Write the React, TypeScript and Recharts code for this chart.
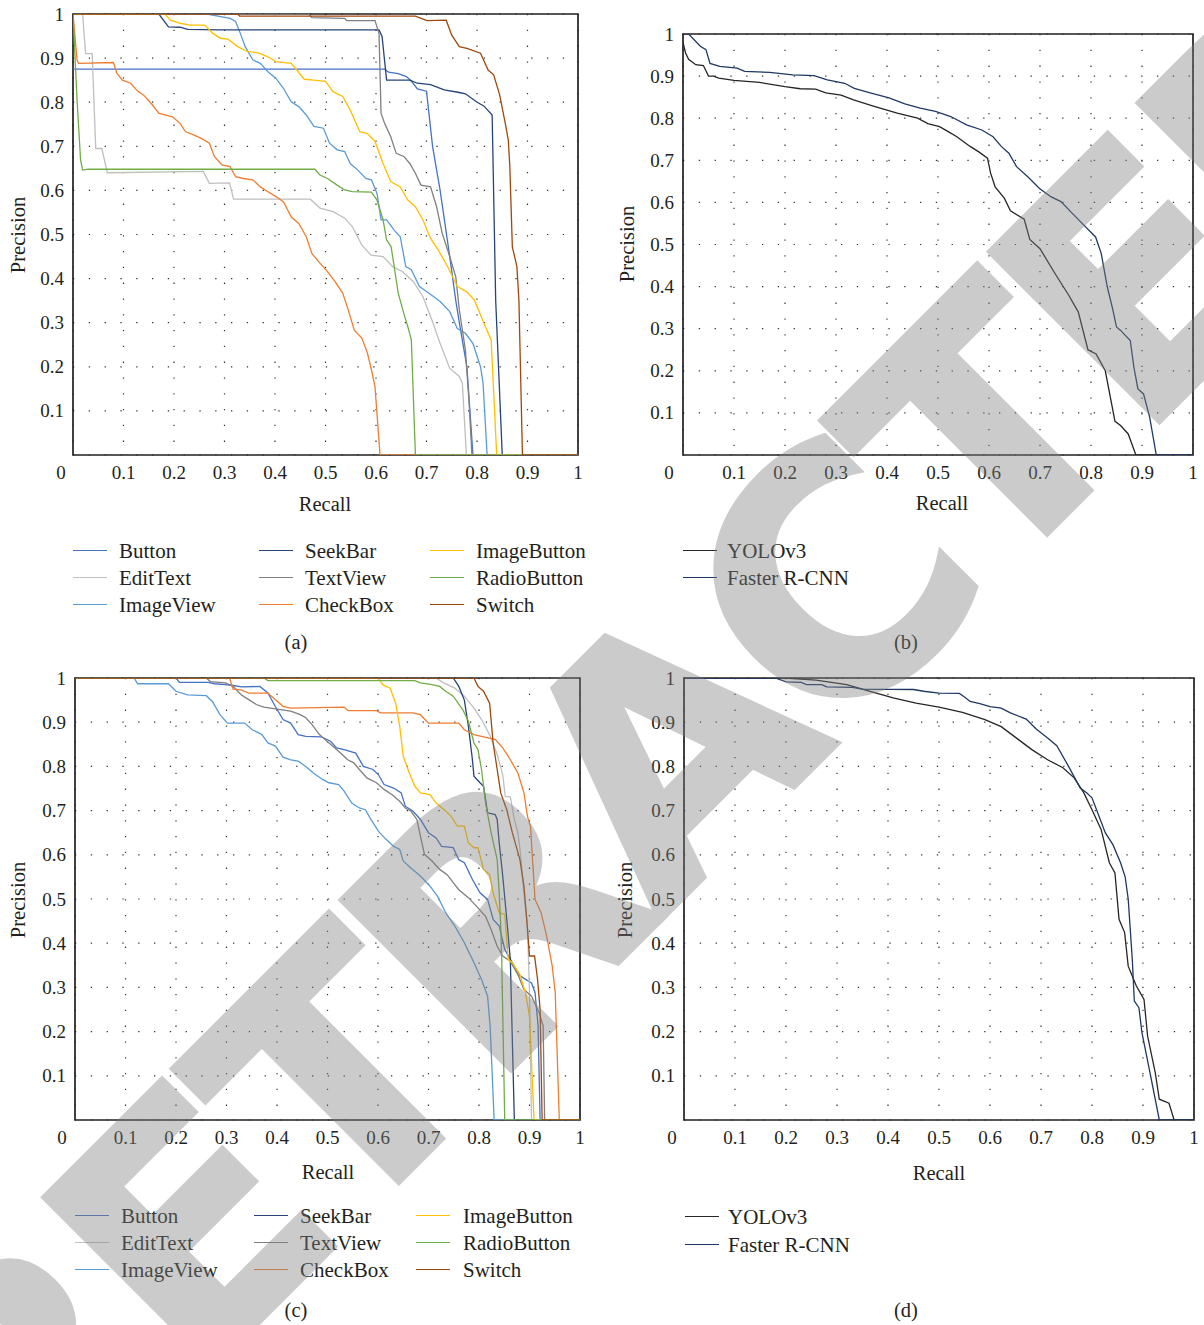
import React from "react";
import { CartesianGrid, Line, LineChart, ReferenceArea, XAxis, YAxis } from "recharts";

// PR curves of the GUI-component detector: [recall, precision]
type Pt = [number, number];

const X_TICKS = [0, 0.1, 0.2, 0.3, 0.4, 0.5, 0.6, 0.7, 0.8, 0.9, 1];
const Y_TICKS = [0.1, 0.2, 0.3, 0.4, 0.5, 0.6, 0.7, 0.8, 0.9, 1];

const COMPONENT_NAMES = ["Button", "EditText", "ImageView", "SeekBar", "TextView", "CheckBox", "ImageButton", "RadioButton", "Switch"];
const COMPONENT_COLORS = ["#4472C4", "#BFBFBF", "#5B9BD5", "#264478", "#7F7F7F", "#ED7D31", "#FFC000", "#70AD47", "#9E480E"];
const DETECTOR_NAMES = ["YOLOv3", "Faster R-CNN"];
const DETECTOR_COLORS = ["#262626", "#1F3864"];

// (a)
const aButton: Pt[] = [[0, 0.875], [0.617, 0.875], [0.625, 0.868], [0.644, 0.865], [0.66, 0.858], [0.67, 0.848], [0.682, 0.83], [0.7, 0.825], [0.712, 0.7], [0.727, 0.6], [0.746, 0.45], [0.758, 0.35], [0.765, 0.3], [0.78, 0.2], [0.792, 0], [1, 0]];
const aEditText: Pt[] = [[0, 1], [0.019, 1], [0.025, 0.91], [0.038, 0.91], [0.045, 0.695], [0.057, 0.695], [0.068, 0.64], [0.258, 0.643], [0.27, 0.616], [0.31, 0.617], [0.318, 0.58], [0.47, 0.58], [0.489, 0.56], [0.515, 0.552], [0.538, 0.537], [0.553, 0.518], [0.572, 0.476], [0.59, 0.453], [0.614, 0.45], [0.633, 0.427], [0.652, 0.416], [0.674, 0.393], [0.693, 0.359], [0.712, 0.302], [0.727, 0.253], [0.746, 0.197], [0.765, 0.178], [0.771, 0.163], [0.779, 0], [1, 0]];
const aImageView: Pt[] = [[0, 1], [0.265, 1], [0.311, 0.99], [0.322, 0.983], [0.33, 0.96], [0.341, 0.926], [0.356, 0.896], [0.371, 0.888], [0.386, 0.869], [0.402, 0.854], [0.417, 0.831], [0.432, 0.801], [0.447, 0.79], [0.462, 0.771], [0.477, 0.745], [0.496, 0.741], [0.508, 0.707], [0.523, 0.692], [0.538, 0.688], [0.549, 0.661], [0.564, 0.646], [0.58, 0.627], [0.591, 0.624], [0.602, 0.593], [0.61, 0.533], [0.621, 0.533], [0.636, 0.51], [0.648, 0.495], [0.659, 0.427], [0.67, 0.42], [0.686, 0.382], [0.705, 0.367], [0.727, 0.348], [0.746, 0.325], [0.761, 0.287], [0.777, 0.276], [0.792, 0.253], [0.807, 0.2], [0.812, 0.163], [0.82, 0], [1, 0]];
const aSeekBar: Pt[] = [[0, 1], [0.17, 1], [0.189, 0.971], [0.212, 0.97], [0.227, 0.965], [0.288, 0.964], [0.606, 0.964], [0.612, 0.949], [0.621, 0.85], [0.667, 0.85], [0.682, 0.843], [0.708, 0.84], [0.735, 0.828], [0.765, 0.822], [0.777, 0.819], [0.799, 0.801], [0.814, 0.791], [0.83, 0.771], [0.837, 0.351], [0.85, 0], [1, 0]];
const aTextView: Pt[] = [[0, 1], [0.466, 1], [0.473, 0.992], [0.538, 0.99], [0.542, 0.985], [0.598, 0.985], [0.606, 0.956], [0.61, 0.775], [0.617, 0.752], [0.629, 0.722], [0.64, 0.684], [0.655, 0.677], [0.667, 0.661], [0.678, 0.639], [0.689, 0.612], [0.708, 0.608], [0.72, 0.563], [0.731, 0.503], [0.746, 0.45], [0.758, 0.404], [0.765, 0.329], [0.777, 0.238], [0.784, 0.125], [0.79, 0], [1, 0]];
const aCheckBox: Pt[] = [[0, 1], [0.008, 0.896], [0.011, 0.888], [0.08, 0.89], [0.087, 0.865], [0.098, 0.85], [0.114, 0.843], [0.129, 0.824], [0.14, 0.816], [0.155, 0.797], [0.17, 0.775], [0.182, 0.771], [0.197, 0.767], [0.212, 0.752], [0.223, 0.733], [0.239, 0.726], [0.254, 0.718], [0.27, 0.707], [0.28, 0.677], [0.295, 0.658], [0.311, 0.654], [0.322, 0.631], [0.337, 0.627], [0.356, 0.624], [0.371, 0.608], [0.386, 0.597], [0.402, 0.586], [0.417, 0.574], [0.432, 0.54], [0.447, 0.525], [0.462, 0.495], [0.473, 0.457], [0.489, 0.435], [0.504, 0.416], [0.519, 0.393], [0.534, 0.367], [0.545, 0.329], [0.557, 0.283], [0.572, 0.265], [0.583, 0.231], [0.591, 0.193], [0.598, 0.155], [0.608, 0], [1, 0]];
const aImageButton: Pt[] = [[0, 1], [0.182, 1], [0.193, 0.986], [0.212, 0.979], [0.231, 0.975], [0.261, 0.975], [0.277, 0.956], [0.292, 0.945], [0.307, 0.943], [0.326, 0.926], [0.345, 0.915], [0.367, 0.912], [0.386, 0.903], [0.402, 0.892], [0.432, 0.888], [0.443, 0.873], [0.458, 0.852], [0.477, 0.85], [0.5, 0.847], [0.515, 0.824], [0.534, 0.813], [0.549, 0.782], [0.568, 0.733], [0.583, 0.729], [0.598, 0.711], [0.614, 0.661], [0.629, 0.62], [0.648, 0.608], [0.663, 0.578], [0.678, 0.563], [0.693, 0.533], [0.708, 0.491], [0.723, 0.465], [0.742, 0.427], [0.761, 0.382], [0.78, 0.37], [0.795, 0.351], [0.811, 0.306], [0.828, 0.261], [0.839, 0], [1, 0]];
const aRadioButton: Pt[] = [[0, 1], [0.008, 0.805], [0.015, 0.669], [0.019, 0.646], [0.03, 0.648], [0.479, 0.648], [0.489, 0.635], [0.504, 0.627], [0.523, 0.612], [0.538, 0.601], [0.553, 0.597], [0.591, 0.596], [0.602, 0.578], [0.614, 0.533], [0.621, 0.488], [0.63, 0.472], [0.636, 0.427], [0.644, 0.367], [0.655, 0.321], [0.663, 0.291], [0.67, 0.261], [0.678, 0], [1, 0]];
const aSwitch: Pt[] = [[0, 1], [0.326, 1], [0.33, 0.995], [0.678, 0.995], [0.701, 0.985], [0.739, 0.986], [0.75, 0.952], [0.765, 0.926], [0.78, 0.922], [0.807, 0.911], [0.822, 0.873], [0.833, 0.862], [0.845, 0.816], [0.856, 0.752], [0.862, 0.714], [0.865, 0.654], [0.87, 0.472], [0.879, 0.427], [0.883, 0.351], [0.89, 0], [1, 0]];

// (b)
const bYolo: Pt[] = [[0, 0.98], [0.005, 0.955], [0.011, 0.94], [0.025, 0.927], [0.04, 0.925], [0.05, 0.9], [0.06, 0.9], [0.07, 0.895], [0.1, 0.89], [0.15, 0.885], [0.2, 0.875], [0.23, 0.87], [0.26, 0.869], [0.28, 0.86], [0.31, 0.855], [0.333, 0.844], [0.37, 0.83], [0.42, 0.812], [0.46, 0.8], [0.48, 0.787], [0.503, 0.78], [0.52, 0.768], [0.537, 0.756], [0.563, 0.733], [0.58, 0.72], [0.597, 0.705], [0.603, 0.67], [0.612, 0.637], [0.63, 0.61], [0.642, 0.58], [0.669, 0.56], [0.68, 0.512], [0.7, 0.49], [0.73, 0.43], [0.756, 0.38], [0.775, 0.34], [0.794, 0.25], [0.81, 0.24], [0.828, 0.2], [0.847, 0.08], [0.858, 0.07], [0.873, 0.05], [0.888, 0], [1, 0]];
const bFaster: Pt[] = [[0, 1], [0.011, 1], [0.034, 0.971], [0.045, 0.963], [0.053, 0.93], [0.072, 0.923], [0.106, 0.919], [0.121, 0.911], [0.17, 0.909], [0.215, 0.903], [0.257, 0.901], [0.283, 0.891], [0.317, 0.883], [0.336, 0.871], [0.367, 0.86], [0.404, 0.848], [0.435, 0.834], [0.465, 0.824], [0.495, 0.816], [0.525, 0.804], [0.556, 0.784], [0.586, 0.772], [0.608, 0.756], [0.624, 0.733], [0.639, 0.717], [0.654, 0.685], [0.676, 0.661], [0.699, 0.633], [0.722, 0.613], [0.741, 0.602], [0.76, 0.578], [0.786, 0.546], [0.809, 0.518], [0.82, 0.479], [0.832, 0.399], [0.843, 0.344], [0.85, 0.304], [0.858, 0.296], [0.877, 0.272], [0.884, 0.209], [0.892, 0.157], [0.903, 0.145], [0.915, 0.09], [0.928, 0], [1, 0]];

// (c)
const cButton: Pt[] = [[0, 1], [0.2, 1], [0.207, 0.99], [0.264, 0.99], [0.276, 0.987], [0.298, 0.985], [0.313, 0.983], [0.33, 0.98], [0.366, 0.981], [0.382, 0.966], [0.397, 0.935], [0.412, 0.906], [0.427, 0.898], [0.442, 0.872], [0.457, 0.868], [0.488, 0.867], [0.506, 0.857], [0.518, 0.842], [0.533, 0.838], [0.556, 0.83], [0.571, 0.8], [0.59, 0.793], [0.601, 0.781], [0.612, 0.759], [0.631, 0.751], [0.646, 0.74], [0.654, 0.71], [0.669, 0.699], [0.684, 0.68], [0.7, 0.65], [0.715, 0.638], [0.726, 0.619], [0.749, 0.616], [0.76, 0.589], [0.771, 0.582], [0.787, 0.544], [0.802, 0.514], [0.817, 0.499], [0.828, 0.454], [0.84, 0.439], [0.851, 0.386], [0.866, 0.356], [0.881, 0.326], [0.904, 0.31], [0.911, 0.288], [0.917, 0.213], [0.921, 0], [1, 0]];
const cEditText: Pt[] = [[0, 1], [0.715, 1], [0.73, 0.989], [0.752, 0.977], [0.771, 0.959], [0.79, 0.932], [0.805, 0.906], [0.821, 0.872], [0.836, 0.827], [0.847, 0.781], [0.852, 0.732], [0.862, 0.731], [0.87, 0.68], [0.877, 0.65], [0.882, 0.604], [0.889, 0.514], [0.896, 0.439], [0.9, 0.288], [0.904, 0], [1, 0]];
const cImageView: Pt[] = [[0, 1], [0.117, 1], [0.124, 0.987], [0.185, 0.987], [0.2, 0.97], [0.223, 0.962], [0.26, 0.96], [0.272, 0.947], [0.287, 0.917], [0.302, 0.898], [0.336, 0.898], [0.351, 0.883], [0.37, 0.872], [0.382, 0.853], [0.397, 0.846], [0.412, 0.821], [0.427, 0.815], [0.442, 0.812], [0.457, 0.8], [0.472, 0.785], [0.491, 0.77], [0.503, 0.763], [0.522, 0.759], [0.533, 0.744], [0.548, 0.717], [0.563, 0.706], [0.575, 0.702], [0.586, 0.68], [0.601, 0.653], [0.616, 0.635], [0.631, 0.619], [0.643, 0.612], [0.65, 0.586], [0.665, 0.57], [0.684, 0.552], [0.703, 0.529], [0.718, 0.506], [0.734, 0.469], [0.752, 0.439], [0.771, 0.401], [0.79, 0.356], [0.805, 0.318], [0.817, 0.28], [0.822, 0.213], [0.83, 0], [1, 0]];
const cSeekBar: Pt[] = [[0, 1], [0.749, 1], [0.76, 0.981], [0.771, 0.95], [0.779, 0.891], [0.787, 0.815], [0.79, 0.778], [0.802, 0.763], [0.809, 0.755], [0.817, 0.695], [0.832, 0.691], [0.836, 0.68], [0.84, 0.627], [0.847, 0.552], [0.855, 0.454], [0.862, 0.363], [0.87, 0], [1, 0]];
const cTextView: Pt[] = [[0, 1], [0.26, 1], [0.268, 0.992], [0.298, 0.989], [0.313, 0.981], [0.329, 0.962], [0.344, 0.951], [0.359, 0.94], [0.374, 0.934], [0.397, 0.93], [0.427, 0.925], [0.446, 0.917], [0.457, 0.91], [0.469, 0.895], [0.484, 0.872], [0.499, 0.857], [0.514, 0.842], [0.529, 0.827], [0.54, 0.815], [0.552, 0.808], [0.563, 0.793], [0.578, 0.774], [0.597, 0.763], [0.612, 0.748], [0.628, 0.736], [0.643, 0.721], [0.654, 0.706], [0.665, 0.699], [0.677, 0.68], [0.684, 0.642], [0.692, 0.601], [0.707, 0.586], [0.722, 0.567], [0.737, 0.555], [0.749, 0.537], [0.76, 0.521], [0.779, 0.503], [0.798, 0.48], [0.813, 0.461], [0.824, 0.431], [0.836, 0.393], [0.847, 0.371], [0.862, 0.359], [0.877, 0.329], [0.889, 0.295], [0.904, 0.28], [0.919, 0.243], [0.927, 0.213], [0.93, 0], [1, 0]];
const cCheckBox: Pt[] = [[0, 1], [0.306, 1], [0.313, 0.975], [0.329, 0.973], [0.344, 0.966], [0.382, 0.966], [0.397, 0.951], [0.412, 0.936], [0.427, 0.932], [0.533, 0.934], [0.541, 0.926], [0.597, 0.926], [0.605, 0.921], [0.669, 0.921], [0.684, 0.917], [0.7, 0.898], [0.76, 0.898], [0.771, 0.883], [0.79, 0.872], [0.809, 0.867], [0.832, 0.861], [0.847, 0.842], [0.862, 0.815], [0.877, 0.785], [0.889, 0.74], [0.896, 0.687], [0.902, 0.665], [0.906, 0.589], [0.911, 0.499], [0.923, 0.469], [0.934, 0.416], [0.945, 0.348], [0.951, 0.288], [0.953, 0.213], [0.959, 0], [1, 0]];
const cImageButton: Pt[] = [[0, 1], [0.601, 1], [0.609, 0.985], [0.624, 0.977], [0.635, 0.943], [0.643, 0.891], [0.65, 0.823], [0.662, 0.785], [0.673, 0.755], [0.684, 0.74], [0.703, 0.736], [0.715, 0.717], [0.734, 0.699], [0.745, 0.687], [0.757, 0.665], [0.771, 0.665], [0.779, 0.627], [0.79, 0.616], [0.798, 0.616], [0.809, 0.567], [0.821, 0.555], [0.828, 0.514], [0.84, 0.469], [0.851, 0.465], [0.858, 0.363], [0.866, 0.356], [0.881, 0.329], [0.892, 0.288], [0.9, 0.235], [0.909, 0], [1, 0]];
const cRadioButton: Pt[] = [[0, 1], [0.374, 1], [0.382, 0.994], [0.673, 0.994], [0.684, 0.989], [0.707, 0.985], [0.722, 0.981], [0.734, 0.97], [0.749, 0.959], [0.768, 0.928], [0.779, 0.902], [0.79, 0.853], [0.798, 0.838], [0.805, 0.793], [0.813, 0.717], [0.824, 0.65], [0.836, 0.589], [0.84, 0.514], [0.843, 0.439], [0.845, 0.363], [0.851, 0], [1, 0]];
const cSwitch: Pt[] = [[0, 1], [0.79, 1], [0.798, 0.981], [0.809, 0.97], [0.821, 0.943], [0.828, 0.853], [0.836, 0.793], [0.843, 0.74], [0.855, 0.702], [0.866, 0.65], [0.881, 0.589], [0.889, 0.529], [0.895, 0.446], [0.9, 0.371], [0.91, 0.371], [0.916, 0.318], [0.921, 0.25], [0.925, 0], [1, 0]];

// (d)
const dYolo: Pt[] = [[0, 1], [0.198, 1], [0.259, 0.995], [0.319, 0.985], [0.365, 0.97], [0.41, 0.955], [0.455, 0.943], [0.5, 0.934], [0.546, 0.922], [0.59, 0.906], [0.622, 0.89], [0.652, 0.864], [0.682, 0.838], [0.713, 0.815], [0.743, 0.797], [0.765, 0.774], [0.784, 0.74], [0.8, 0.702], [0.818, 0.657], [0.834, 0.582], [0.845, 0.559], [0.853, 0.454], [0.864, 0.424], [0.871, 0.348], [0.887, 0.303], [0.902, 0.273], [0.909, 0.19], [0.924, 0.107], [0.932, 0.047], [0.951, 0.038], [0.961, 0], [1, 0]];
const dFaster: Pt[] = [[0, 1], [0.179, 1], [0.2, 0.991], [0.23, 0.99], [0.24, 0.985], [0.27, 0.985], [0.28, 0.98], [0.33, 0.979], [0.35, 0.975], [0.45, 0.974], [0.47, 0.97], [0.5, 0.966], [0.54, 0.965], [0.55, 0.957], [0.561, 0.947], [0.58, 0.942], [0.6, 0.935], [0.622, 0.932], [0.64, 0.921], [0.671, 0.907], [0.69, 0.885], [0.713, 0.864], [0.731, 0.847], [0.754, 0.8], [0.777, 0.751], [0.79, 0.74], [0.8, 0.729], [0.826, 0.65], [0.841, 0.623], [0.856, 0.582], [0.865, 0.55], [0.871, 0.5], [0.879, 0.363], [0.883, 0.269], [0.892, 0.254], [0.898, 0.197], [0.913, 0.111], [0.932, 0], [1, 0]];

const A_SERIES = [aButton, aEditText, aImageView, aSeekBar, aTextView, aCheckBox, aImageButton, aRadioButton, aSwitch];
const C_SERIES = [cButton, cEditText, cImageView, cSeekBar, cTextView, cCheckBox, cImageButton, cRadioButton, cSwitch];
const B_SERIES = [bYolo, bFaster];
const D_SERIES = [dYolo, dFaster];

const SERIF = "'Liberation Serif', 'DejaVu Serif', serif";
const INK = "#231f20";
const Y_AXIS_W = 80;
const M_TOP = 15;
const M_RIGHT = 15;
const X_AXIS_H = 40;

const fmt = (v: number) => (v === 0 ? "0" : v === 1 ? "1" : v.toFixed(1));

type PanelProps = {
  left: number; // plot area box in page px
  top: number;
  w: number;
  h: number;
  zeroShift: number;
  series: Pt[][];
  names: string[];
  colors: string[];
};

function Panel({ left, top, w, h, zeroShift, series, names, colors }: PanelProps) {
  const XTick = (p: any) => {
    const v = p.payload.value;
    return (
      <text x={v === 0 ? p.x - zeroShift : p.x} y={p.y + 24} textAnchor="middle" fontSize={19} fontFamily={SERIF} fill={INK}>
        {fmt(v)}
      </text>
    );
  };
  const YTick = (p: any) => (
    <text x={p.x - 9} y={p.y + 6.5} textAnchor="end" fontSize={19} fontFamily={SERIF} fill={INK}>
      {fmt(p.payload.value)}
    </text>
  );
  return (
    <div style={{ position: "absolute", left: left - Y_AXIS_W, top: top - M_TOP }}>
      <LineChart
        width={Y_AXIS_W + w + M_RIGHT}
        height={M_TOP + h + X_AXIS_H}
        margin={{ top: M_TOP, right: M_RIGHT, bottom: 0, left: 0 }}
      >
        <CartesianGrid stroke="#333" strokeWidth={1.2} strokeDasharray="1.3 14.5" />
        <XAxis
          type="number"
          dataKey="r"
          domain={[0, 1]}
          ticks={X_TICKS}
          interval={0}
          height={X_AXIS_H}
          axisLine={false}
          tickLine={false}
          tickSize={0}
          tickMargin={0}
          tick={XTick}
          allowDataOverflow
        />
        <YAxis
          type="number"
          domain={[0, 1]}
          ticks={Y_TICKS}
          interval={0}
          width={Y_AXIS_W}
          axisLine={false}
          tickLine={false}
          tickSize={0}
          tickMargin={0}
          tick={YTick}
          allowDataOverflow
        />
        {series.map((pts, i) => (
          <Line
            key={names[i]}
            name={names[i]}
            data={pts.map(([r, p]) => ({ r, p }))}
            dataKey="p"
            type="linear"
            stroke={colors[i]}
            strokeWidth={1.3}
            dot={false}
            activeDot={false}
            isAnimationActive={false}
          />
        ))}
        <ReferenceArea x1={0} x2={1} y1={0} y2={1} fill="none" stroke={INK} strokeWidth={1.7} ifOverflow="visible" />
      </LineChart>
    </div>
  );
}

function CenterText({ x, y, size = 20.5, rotate = 0, children }: { x: number; y: number; size?: number; rotate?: number; children: React.ReactNode }) {
  return (
    <div
      style={{
        position: "absolute",
        left: x,
        top: y,
        transform: `translate(-50%, -50%) rotate(${rotate}deg)`,
        fontFamily: SERIF,
        fontSize: size,
        lineHeight: 1,
        color: INK,
        whiteSpace: "nowrap",
      }}
    >
      {children}
    </div>
  );
}

type LegendProps = { lineX: number[]; textX: number[]; rows: number[]; names: string[]; colors: string[] };

function LegendBlock({ lineX, textX, rows, names, colors }: LegendProps) {
  return (
    <>
      {names.map((n, i) => {
        const col = Math.floor(i / rows.length);
        const y = rows[i % rows.length];
        return (
          <React.Fragment key={n}>
            <div style={{ position: "absolute", left: lineX[col], top: y - 0.75, width: 34, borderTop: `1.5px solid ${colors[i]}` }} />
            <div
              style={{
                position: "absolute",
                left: textX[col],
                top: y,
                transform: "translateY(-50%)",
                fontFamily: SERIF,
                fontSize: 21,
                lineHeight: 1,
                color: INK,
                whiteSpace: "nowrap",
              }}
            >
              {n}
            </div>
          </React.Fragment>
        );
      })}
    </>
  );
}

export default function App() {
  return (
    <div style={{ position: "absolute", left: 0, top: 0, width: 1204, height: 1325, background: "#fff", overflow: "hidden" }}>
      <Panel left={73} top={14} w={505} h={441} zeroShift={12} series={A_SERIES} names={COMPONENT_NAMES} colors={COMPONENT_COLORS} />
      <Panel left={683} top={34} w={510} h={421} zeroShift={14} series={B_SERIES} names={DETECTOR_NAMES} colors={DETECTOR_COLORS} />
      <Panel left={75} top={678} w={505} h={442} zeroShift={13} series={C_SERIES} names={COMPONENT_NAMES} colors={COMPONENT_COLORS} />
      <Panel left={684} top={678} w={510} h={442} zeroShift={12} series={D_SERIES} names={DETECTOR_NAMES} colors={DETECTOR_COLORS} />

      <CenterText x={325} y={504}>Recall</CenterText>
      <CenterText x={942} y={503}>Recall</CenterText>
      <CenterText x={328} y={1172}>Recall</CenterText>
      <CenterText x={939} y={1173}>Recall</CenterText>
      <CenterText x={18} y={235} rotate={-90}>Precision</CenterText>
      <CenterText x={627} y={244} rotate={-90}>Precision</CenterText>
      <CenterText x={18} y={900} rotate={-90}>Precision</CenterText>
      <CenterText x={625} y={900} rotate={-90}>Precision</CenterText>

      <LegendBlock lineX={[73, 259, 430]} textX={[119, 305, 476]} rows={[551, 578, 605]} names={COMPONENT_NAMES} colors={COMPONENT_COLORS} />
      <LegendBlock lineX={[683]} textX={[727]} rows={[551, 578]} names={DETECTOR_NAMES} colors={DETECTOR_COLORS} />
      <LegendBlock lineX={[75, 254, 416]} textX={[121, 300, 463]} rows={[1216, 1243, 1270]} names={COMPONENT_NAMES} colors={COMPONENT_COLORS} />
      <LegendBlock lineX={[685]} textX={[728]} rows={[1217, 1245]} names={DETECTOR_NAMES} colors={DETECTOR_COLORS} />

      <CenterText x={296} y={642}>(a)</CenterText>
      <CenterText x={906} y={642}>(b)</CenterText>
      <CenterText x={296} y={1310}>(c)</CenterText>
      <CenterText x={906} y={1310}>(d)</CenterText>

      <svg width={1204} height={1325} style={{ position: "absolute", left: 0, top: 0, pointerEvents: "none" }}>
        <text
          x={666}
          y={754}
          transform="rotate(-45 666 754)"
          textAnchor="middle"
          dominantBaseline="central"
          fontFamily="'DejaVu Sans', sans-serif"
          fontWeight="bold"
          fontSize={330}
          letterSpacing={-15}
          fill="#808080"
          stroke="#808080"
          strokeWidth={5}
          strokeLinejoin="miter"
          opacity={0.4}
        >
          RETRACTED
        </text>
      </svg>
    </div>
  );
}
